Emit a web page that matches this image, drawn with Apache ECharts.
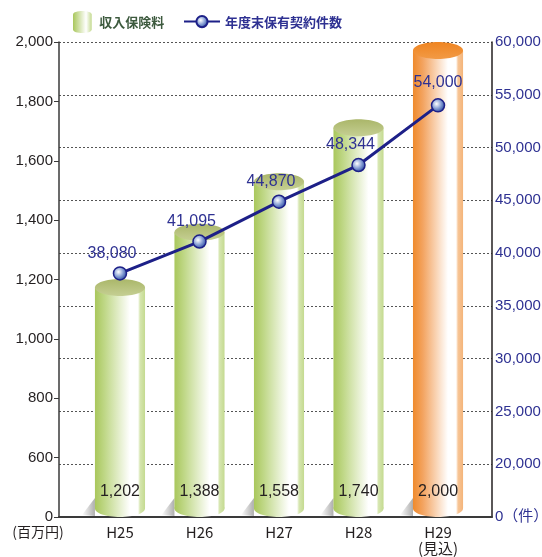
<!DOCTYPE html>
<html>
<head>
<meta charset="utf-8">
<script src="https://cdn.jsdelivr.net/npm/echarts@6/dist/echarts.min.js"></script>
<style>
html,body{margin:0;padding:0;background:#fff;}
#c{width:542px;height:557px;}
</style>
</head>
<body>
<div id="c"></div>
<script>
const categories = ['H25', 'H26', 'H27', 'H28', 'H29\n(見込)'];
const premiumIncome = [1202, 1388, 1558, 1740, 2000];           // 収入保険料（百万円）
const contractCounts = [38080, 41095, 44870, 48344, 54000];     // 年度末保有契約件数（件）
const leftTickValues = [0, 600, 800, 1000, 1200, 1400, 1600, 1800, 2000];
const leftTickLabels = ['0', '600', '800', '1,000', '1,200', '1,400', '1,600', '1,800', '2,000'];
const rightTickValues = [0, 20000, 25000, 30000, 35000, 40000, 45000, 50000, 55000, 60000];
const rightTickLabels = ['0（件）', '20,000', '25,000', '30,000', '35,000', '40,000', '45,000', '50,000', '55,000', '60,000'];

// broken axis: map a value to its tick-index position (piecewise linear between ticks)
function toIdx(v, ticks) {
  for (let k = 1; k < ticks.length; k++) {
    if (v <= ticks[k]) return (k - 1) + (v - ticks[k - 1]) / (ticks[k] - ticks[k - 1]);
  }
  return ticks.length - 1;
}
const fmt = v => v.toLocaleString('en-US');

const FONT = '"Liberation Sans", Arial, sans-serif';
const CJK = '"Noto Sans CJK JP", sans-serif';
const G = echarts.graphic;

function bodyGrad(orange) {
  return orange
    ? new G.LinearGradient(0, 0, 1, 0, [
        {offset: 0, color: '#ef8a2c'}, {offset: 0.2, color: '#f3a461'},
        {offset: 0.7, color: '#ffffff'}, {offset: 0.86, color: '#ffffff'},
        {offset: 0.9, color: '#f7c596'}, {offset: 1, color: '#f4b47a'}])
    : new G.LinearGradient(0, 0, 1, 0, [
        {offset: 0, color: '#a9c75c'}, {offset: 0.2, color: '#c0d888'},
        {offset: 0.7, color: '#ffffff'}, {offset: 0.86, color: '#ffffff'},
        {offset: 0.9, color: '#d6e6b0'}, {offset: 1, color: '#c4da90'}]);
}
function topGrad(orange) {
  return orange
    ? new G.LinearGradient(0, 0, 0, 1, [{offset: 0, color: '#ef8420'}, {offset: 1, color: '#f29a45'}])
    : new G.LinearGradient(0, 0, 0, 1, [{offset: 0, color: '#aab669'}, {offset: 1, color: '#c5cf93'}]);
}

function renderCylinder(params, api) {
  const i = api.value(0);
  const raw = api.value(2);
  const top = api.coord([i, api.value(1)]);
  const base = api.coord([i, 0]);
  const w = api.size([0.63, 0])[0];
  const ry = 8.5;
  const xL = top[0] - w / 2;
  const orange = i === categories.length - 1;
  return {
    type: 'group',
    children: [
      {type: 'polygon', shape: {points: [[xL - 13, base[1] - 2], [xL, base[1] - 19], [xL, base[1] - 1]]},
       style: {fill: new G.LinearGradient(0, 0, 1, 0, [{offset: 0, color: 'rgba(0,0,0,0.0)'}, {offset: 1, color: 'rgba(0,0,0,0.32)'}])}},
      {type: 'rect', shape: {x: xL, y: top[1] + ry, width: w, height: (base[1] - ry) - (top[1] + ry)}, style: {fill: bodyGrad(orange)}},
      {type: 'ellipse', shape: {cx: top[0], cy: base[1] - ry, rx: w / 2, ry: ry}, style: {fill: bodyGrad(orange)}},
      {type: 'ellipse', shape: {cx: top[0], cy: top[1] + ry, rx: w / 2, ry: ry}, style: {fill: topGrad(orange)}},
      {type: 'text', style: {text: fmt(raw), x: top[0], y: base[1] - 25, align: 'center', verticalAlign: 'middle',
        fill: '#231f20', font: '16px ' + FONT}}
    ]
  };
}

const chart = echarts.init(document.getElementById('c'), null, {renderer: 'canvas'});
chart.setOption({
  backgroundColor: '#ffffff',
  animation: false,
  grid: {left: 59, right: 50, top: 42, bottom: 40, containLabel: false, outerBoundsMode: 'none'},
  legend: [
    {data: [{name: '収入保険料', icon: 'path://M0,4 C0,-1 20,-1 20,4 L20,20 C20,25 0,25 0,20 Z'}],
     left: 68, top: 6, itemWidth: 24, itemHeight: 22,
     textStyle: {color: '#3d5a3e', fontSize: 13, fontFamily: CJK, fontWeight: 'bold'}},
    {data: ['年度末保有契約件数'], left: 178, top: 10, itemWidth: 36, itemHeight: 14,
     textStyle: {color: '#2e3192', fontSize: 13, fontFamily: CJK, fontWeight: 'bold'}}
  ],
  xAxis: {
    type: 'value', min: -0.767, max: 4.679,
    axisLine: {show: true, onZero: false, lineStyle: {color: '#3a3a3a', width: 2}},
    axisTick: {show: false}, splitLine: {show: false},
    axisLabel: {customValues: categories.map((c, i) => i), formatter: v => categories[Math.round(v)],
      color: '#231f20', fontSize: 15, fontFamily: CJK, lineHeight: 16, margin: 7}
  },
  yAxis: [
    {type: 'value', min: 0, max: leftTickValues.length - 1, interval: 1, position: 'left',
     name: '(百万円)', nameLocation: 'start', nameGap: 8,
     nameTextStyle: {color: '#231f20', fontSize: 14, fontFamily: CJK, align: 'center', verticalAlign: 'top', padding: [0, 42, 0, 0]},
     axisLine: {show: true, onZero: false, lineStyle: {color: '#3a3a3a', width: 1.5}},
     axisTick: {show: true, length: 5, lineStyle: {color: '#3a3a3a'}},
     splitLine: {show: false},
     axisLabel: {formatter: v => leftTickLabels[v], color: '#231f20', fontSize: 15, fontFamily: FONT, margin: 6}},
    {type: 'value', min: 0, max: rightTickValues.length - 1, interval: 1, position: 'right',
     axisLine: {show: true, onZero: false, lineStyle: {color: '#231f20', width: 1.5}},
     axisTick: {show: false},
     splitLine: {show: true, lineStyle: {color: '#555', width: 1, type: [2, 2]}},
     axisLabel: {formatter: v => rightTickLabels[v], color: '#2e3192', fontSize: 15, fontFamily: FONT + ',' + CJK, margin: 3}}
  ],
  series: [
    {name: '収入保険料', type: 'custom', xAxisIndex: 0, yAxisIndex: 0, z: 2,
     itemStyle: {color: new G.LinearGradient(0, 0, 1, 0, [{offset: 0, color: '#a9c75c'}, {offset: 0.7, color: '#ffffff'}, {offset: 1, color: '#c4da90'}])},
     renderItem: renderCylinder,
     data: premiumIncome.map((v, i) => [i, toIdx(v, leftTickValues), v])},
    {name: '年度末保有契約件数', type: 'line', xAxisIndex: 0, yAxisIndex: 1, z: 5,
     symbol: 'circle', symbolSize: 13,
     lineStyle: {color: '#1d2088', width: 3},
     itemStyle: {color: new G.RadialGradient(0.4, 0.4, 0.6, [{offset: 0, color: '#ffffff'}, {offset: 0.5, color: '#8fa6d8'}, {offset: 1, color: '#2a4aa0'}]),
                 borderColor: '#1d2088', borderWidth: 1.5},
     label: {show: true, position: 'top', distance: 5, color: '#2e3192', fontSize: 16, fontFamily: FONT,
             formatter: p => fmt(contractCounts[p.dataIndex])},
     data: contractCounts.map((v, i) => ({value: [i, toIdx(v, rightTickValues)],
       label: {offset: i === contractCounts.length - 1 ? [0, -2] : [-8, 0]}}))}
  ]
});
</script>
</body>
</html>
